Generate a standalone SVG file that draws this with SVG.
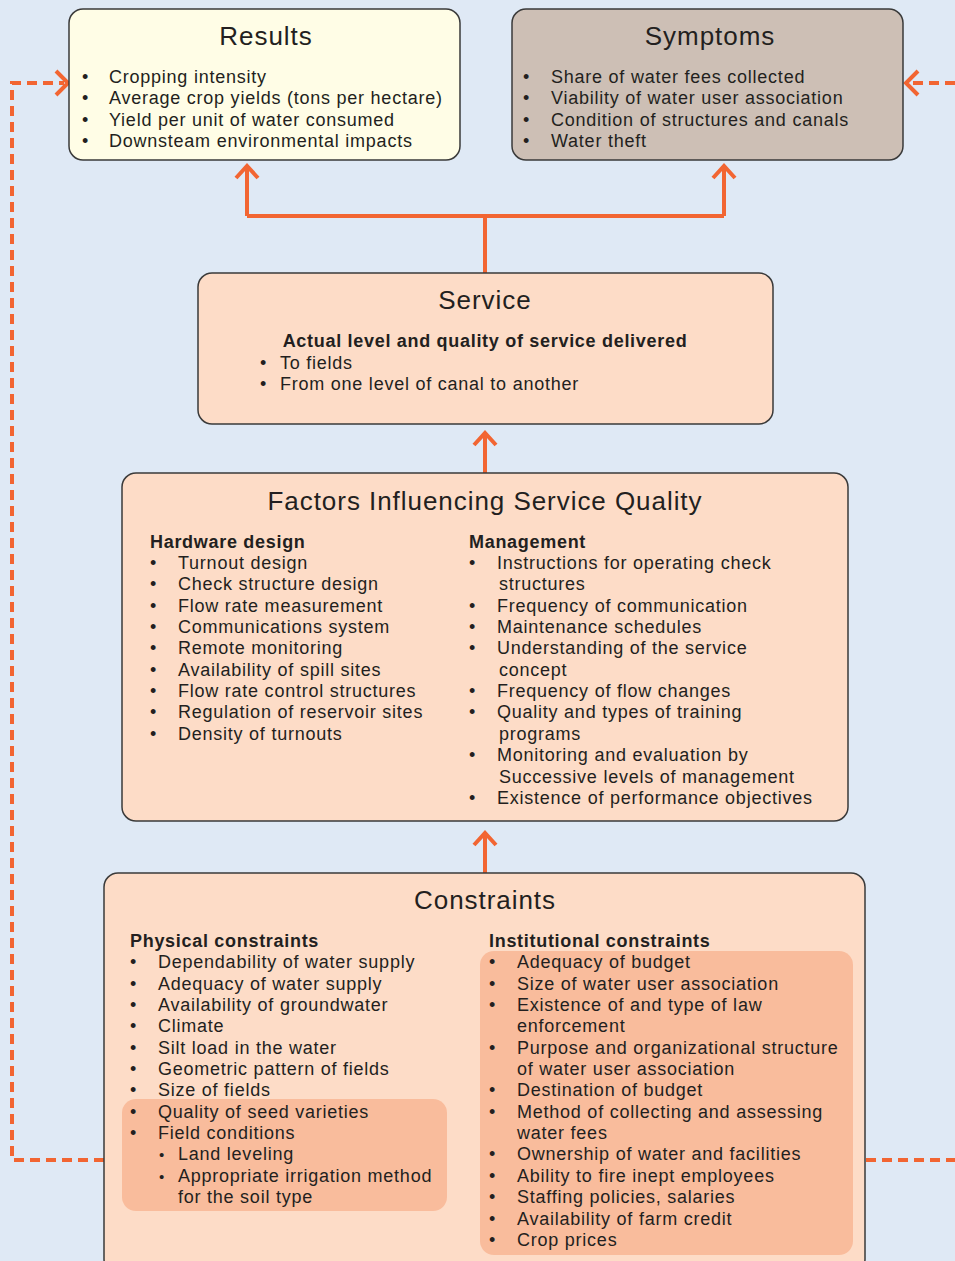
<svg xmlns="http://www.w3.org/2000/svg" width="955" height="1261" viewBox="0 0 955 1261">
<style>
.box{stroke:#3a3a3a;stroke-width:1.5}
.t{font-family:"Liberation Sans",Arial,sans-serif;fill:#231f20}
.title{font-size:26px;text-anchor:middle;letter-spacing:0.95px}
.b{font-size:18px;letter-spacing:0.76px}
.h{font-size:18px;font-weight:bold;letter-spacing:0.7px}
.s{font-size:15px}
.con{fill:none;stroke:#f26532;stroke-width:4}
.dash{fill:none;stroke:#f26532;stroke-width:4;stroke-dasharray:10 6}
.hl{fill:#f9bc9c}
</style>
<rect width="955" height="1261" fill="#dfe9f5"/>
<g id="connectors">
<path class="con" d="M485 273V216M247 216H724M247 216V166M724 216V166"/>
<path class="con" d="M236 178L247 166L258 178M713 178L724 166L735 178"/>
<path class="con" d="M485 473V433M474 445L485 433L496 445"/>
<path class="con" d="M485 873V833M474 845L485 833L496 845"/>
<path class="dash" d="M104 1160H12V83H64"/>
<path class="con" d="M56 71L68 83L56 95"/>
<path class="dash" d="M866 1160H955"/>
<path class="dash" d="M955 83H910"/>
<path class="con" d="M918 71L906 83L918 95"/>
</g>
<g id="results">
<rect class="box" x="69" y="9" width="391" height="151" rx="14" fill="#fffde6"/>
<text class="t title" x="266" y="45">Results</text>
<g class="t b">
<text x="82" y="83">•</text><text x="109" y="83">Cropping intensity</text>
<text x="82" y="104">•</text><text x="109" y="104">Average crop yields (tons per hectare)</text>
<text x="82" y="126">•</text><text x="109" y="126">Yield per unit of water consumed</text>
<text x="82" y="147">•</text><text x="109" y="147">Downsteam environmental impacts</text>
</g>
</g>
<g id="symptoms">
<rect class="box" x="512" y="9" width="391" height="151" rx="14" fill="#cdbfb5"/>
<text class="t title" x="710" y="45">Symptoms</text>
<g class="t b">
<text x="523" y="83">•</text><text x="551" y="83">Share of water fees collected</text>
<text x="523" y="104">•</text><text x="551" y="104">Viability of water user association</text>
<text x="523" y="126">•</text><text x="551" y="126">Condition of structures and canals</text>
<text x="523" y="147">•</text><text x="551" y="147">Water theft</text>
</g>
</g>
<g id="service">
<rect class="box" x="198" y="273" width="575" height="151" rx="14" fill="#fddcc7"/>
<text class="t title" x="485" y="309">Service</text>
<text class="t h" x="485" y="347" text-anchor="middle">Actual level and quality of service delivered</text>
<g class="t b">
<text x="260" y="369">•</text><text x="280" y="369">To fields</text>
<text x="260" y="390">•</text><text x="280" y="390">From one level of canal to another</text>
</g>
</g>
<g id="factors">
<rect class="box" x="122" y="473" width="726" height="348" rx="14" fill="#fddcc7"/>
<text class="t title" x="485" y="510">Factors Influencing Service Quality</text>
<text class="t h" x="150" y="548">Hardware design</text>
<g class="t b">
<text x="150" y="569">•</text><text x="178" y="569">Turnout design</text>
<text x="150" y="590">•</text><text x="178" y="590">Check structure design</text>
<text x="150" y="612">•</text><text x="178" y="612">Flow rate measurement</text>
<text x="150" y="633">•</text><text x="178" y="633">Communications system</text>
<text x="150" y="654">•</text><text x="178" y="654">Remote monitoring</text>
<text x="150" y="676">•</text><text x="178" y="676">Availability of spill sites</text>
<text x="150" y="697">•</text><text x="178" y="697">Flow rate control structures</text>
<text x="150" y="718">•</text><text x="178" y="718">Regulation of reservoir sites</text>
<text x="150" y="740">•</text><text x="178" y="740">Density of turnouts</text>
</g>
<text class="t h" x="469" y="548">Management</text>
<g class="t b">
<text x="469" y="569">•</text><text x="497" y="569">Instructions for operating check</text>
<text x="499" y="590">structures</text>
<text x="469" y="612">•</text><text x="497" y="612">Frequency of communication</text>
<text x="469" y="633">•</text><text x="497" y="633">Maintenance schedules</text>
<text x="469" y="654">•</text><text x="497" y="654">Understanding of the service</text>
<text x="499" y="676">concept</text>
<text x="469" y="697">•</text><text x="497" y="697">Frequency of flow changes</text>
<text x="469" y="718">•</text><text x="497" y="718">Quality and types of training</text>
<text x="499" y="740">programs</text>
<text x="469" y="761">•</text><text x="497" y="761">Monitoring and evaluation by</text>
<text x="499" y="783">Successive levels of management</text>
<text x="469" y="804">•</text><text x="497" y="804">Existence of performance objectives</text>
</g>
</g>
<g id="constraints">
<rect class="box" x="104" y="873" width="761" height="400" rx="14" fill="#fddcc7"/>
<rect class="hl" x="122" y="1099" width="325" height="112" rx="14"/>
<rect class="hl" x="480" y="951" width="373" height="304" rx="14"/>
<text class="t title" x="485" y="909">Constraints</text>
<text class="t h" x="130" y="947">Physical constraints</text>
<g class="t b">
<text x="130" y="968">•</text><text x="158" y="968">Dependability of water supply</text>
<text x="130" y="990">•</text><text x="158" y="990">Adequacy of water supply</text>
<text x="130" y="1011">•</text><text x="158" y="1011">Availability of groundwater</text>
<text x="130" y="1032">•</text><text x="158" y="1032">Climate</text>
<text x="130" y="1054">•</text><text x="158" y="1054">Silt load in the water</text>
<text x="130" y="1075">•</text><text x="158" y="1075">Geometric pattern of fields</text>
<text x="130" y="1096">•</text><text x="158" y="1096">Size of fields</text>
<text x="130" y="1118">•</text><text x="158" y="1118">Quality of seed varieties</text>
<text x="130" y="1139">•</text><text x="158" y="1139">Field conditions</text>
<text x="159" y="1160" class="s">•</text><text x="178" y="1160">Land leveling</text>
<text x="159" y="1182" class="s">•</text><text x="178" y="1182">Appropriate irrigation method</text>
<text x="178" y="1203">for the soil type</text>
</g>
<text class="t h" x="489" y="947">Institutional constraints</text>
<g class="t b">
<text x="489" y="968">•</text><text x="517" y="968">Adequacy of budget</text>
<text x="489" y="990">•</text><text x="517" y="990">Size of water user association</text>
<text x="489" y="1011">•</text><text x="517" y="1011">Existence of and type of law</text>
<text x="517" y="1032">enforcement</text>
<text x="489" y="1054">•</text><text x="517" y="1054">Purpose and organizational structure</text>
<text x="517" y="1075">of water user association</text>
<text x="489" y="1096">•</text><text x="517" y="1096">Destination of budget</text>
<text x="489" y="1118">•</text><text x="517" y="1118">Method of collecting and assessing</text>
<text x="517" y="1139">water fees</text>
<text x="489" y="1160">•</text><text x="517" y="1160">Ownership of water and facilities</text>
<text x="489" y="1182">•</text><text x="517" y="1182">Ability to fire inept employees</text>
<text x="489" y="1203">•</text><text x="517" y="1203">Staffing policies, salaries</text>
<text x="489" y="1225">•</text><text x="517" y="1225">Availability of farm credit</text>
<text x="489" y="1246">•</text><text x="517" y="1246">Crop prices</text>
</g>
</g>
</svg>
